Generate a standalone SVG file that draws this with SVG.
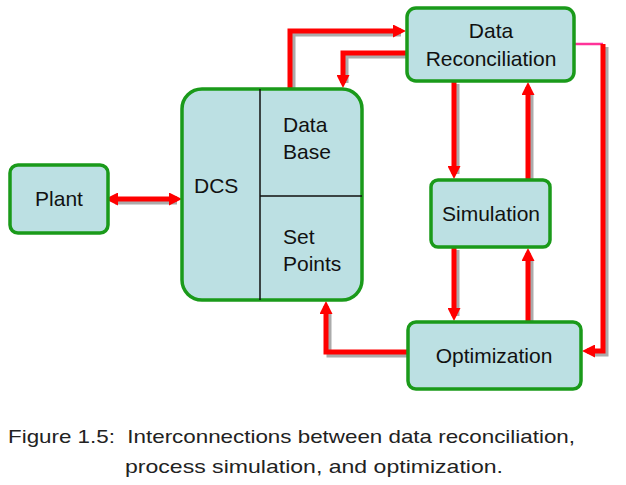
<svg xmlns="http://www.w3.org/2000/svg" width="626" height="485" viewBox="0 0 626 485">
<style>
.n{fill:#bce0e3;stroke:#1a9a1a;stroke-width:3.5}
.t{font-family:"Liberation Sans",Arial,sans-serif;font-size:21px;fill:#111}
.c{fill:none;stroke:#ff0000;stroke-width:5}
.s{fill:none;stroke:#888;stroke-width:5;opacity:.7}
.cap{font-family:"Liberation Sans",Arial,sans-serif;font-size:19px;fill:#222}
</style>
<defs>
<marker id="a" markerWidth="2.6" markerHeight="2.6" refX="1.6" refY="1.3" orient="auto" markerUnits="strokeWidth"><path d="M0,0 L2.6,1.3 L0,2.6 Z" fill="#ff0000"/></marker>
<marker id="b" markerWidth="2.6" markerHeight="2.6" refX="1" refY="1.3" orient="auto-start-reverse" markerUnits="strokeWidth"><path d="M0,0 L2.6,1.3 L0,2.6 Z" fill="#ff0000"/></marker>
</defs>
<rect width="626" height="485" fill="#fff"/>
<g id="connectors">
<g transform="translate(3,3)">
<path class="s" d="M112,199 H174"/>
<path class="s" d="M290,89 V31 H398"/>
<path class="s" d="M407,53 H343 V80"/>
<path class="s" d="M454,81 V171"/>
<path class="s" d="M528,180 V90"/>
<path class="s" d="M454,247 V313"/>
<path class="s" d="M528,322 V256"/>
<path class="s" d="M408,352 H326 V309"/>
<path class="s" d="M603,44 V351 H590"/>
</g>
<path class="c" d="M113,199 H177" marker-start="url(#b)" marker-end="url(#a)"/>
<path class="c" d="M290,89 V31 H401" marker-end="url(#a)"/>
<path class="c" d="M407,53 H343 V83" marker-end="url(#a)"/>
<path class="c" d="M454,81 V174" marker-end="url(#a)"/>
<path class="c" d="M528,180 V87" marker-end="url(#a)"/>
<path class="c" d="M454,247 V316" marker-end="url(#a)"/>
<path class="c" d="M528,322 V253" marker-end="url(#a)"/>
<path class="c" d="M408,352 H326 V306" marker-end="url(#a)"/>
<path d="M574,44 H603" stroke="#ff3399" stroke-width="2.5" fill="none"/>
<path class="c" d="M603,44 V351 H587" marker-end="url(#a)"/>
</g>
<g id="plant"><rect class="n" x="10" y="165" width="98" height="68" rx="8"/><text class="t" x="59" y="206" text-anchor="middle">Plant</text></g>
<g id="dcs"><rect class="n" x="182" y="89" width="180" height="211" rx="20"/>
<path d="M260,89 V300 M260,196 H362" stroke="#111" stroke-width="1.5"/>
<text class="t" x="194" y="193">DCS</text>
<text class="t" x="283" y="132">Data</text><text class="t" x="283" y="159">Base</text>
<text class="t" x="283" y="244">Set</text><text class="t" x="283" y="271">Points</text></g>
<g id="dr"><rect class="n" x="407" y="8" width="167" height="73" rx="9"/><text class="t" x="491" y="38" text-anchor="middle">Data</text><text class="t" x="491" y="66" text-anchor="middle">Reconciliation</text></g>
<g id="sim"><rect class="n" x="431" y="180" width="119" height="67" rx="7"/><text class="t" x="491" y="221" text-anchor="middle">Simulation</text></g>
<g id="opt"><rect class="n" x="408" y="322" width="173" height="67" rx="8"/><text class="t" x="494" y="363" text-anchor="middle">Optimization</text></g>
<text class="cap" x="8" y="443" xml:space="preserve" textLength="567" lengthAdjust="spacingAndGlyphs">Figure 1.5:  Interconnections between data reconciliation,</text>
<text class="cap" x="125" y="473" textLength="378" lengthAdjust="spacingAndGlyphs">process simulation, and optimization.</text>
</svg>
